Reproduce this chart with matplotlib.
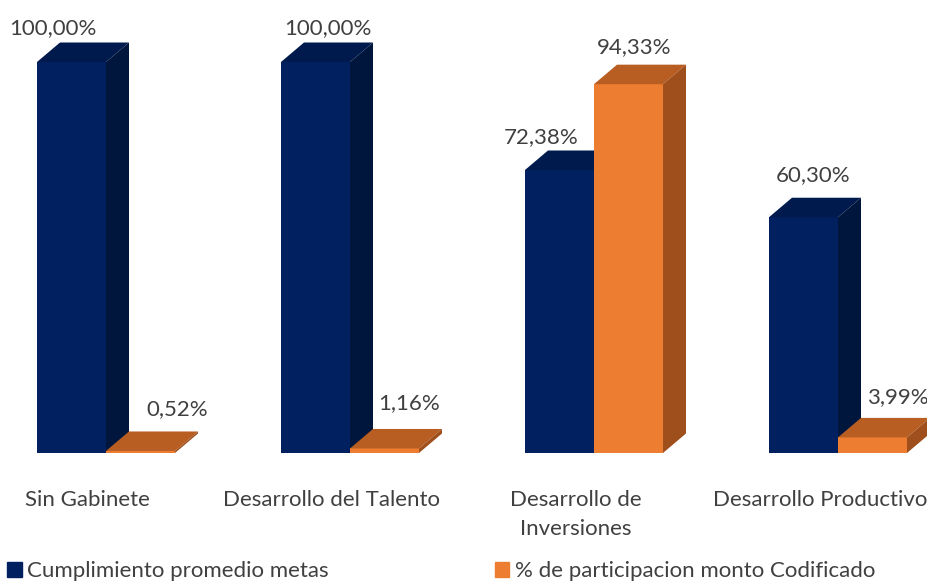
import matplotlib
matplotlib.use("Agg")
import matplotlib.pyplot as plt

categories = ["Sin Gabinete", "Desarrollo del Talento", "Desarrollo de\nInversiones", "Desarrollo Productivo"]
cumplimiento = [100.00, 100.00, 72.38, 60.30]
participacion = [0.52, 1.16, 94.33, 3.99]
series_names = ["Cumplimiento promedio metas", "% de participacion monto Codificado"]

def fmt(v):
    return f"{v:.2f}".replace(".", ",") + "%"

plt.rcParams['font.family'] = ['Lato', 'DejaVu Sans']

fig = plt.figure(figsize=(9.27, 5.82), dpi=100)
ax = fig.add_axes([0, 0, 1, 1])
ax.set_xlim(-106/244, (927-106)/244)
ax.set_ylim(-129/3.91, 453/3.91)
ax.axis('off')

W = 69/244
DX = 23/244
DY = 19.5/3.91

colors = {
    0: dict(front='#002060', top='#001a4d', side='#00163c'),
    1: dict(front='#ED7D31', top='#B85E22', side='#9E4F1C'),
}

def bar3d(x0, h, c):
    ax.fill([x0, x0+W, x0+W, x0], [0, 0, h, h], color=c['front'], lw=0, zorder=2)
    ax.fill([x0, x0+DX, x0+W+DX, x0+W], [h, h+DY, h+DY, h], color=c['top'], lw=0, zorder=2)
    ax.fill([x0+W, x0+W+DX, x0+W+DX, x0+W], [0, DY, h+DY, h], color=c['side'], lw=0, zorder=2)

# label offsets in pixels relative to front-top-center
blue_off = [(-19, 34), (12, 34), (-18, 33), (10, 42)]
orange_off = [(37, 42), (25, 45), (6, 37), (25, 40)]

txt_color = '#404040'
FS = 16
for i in range(len(categories)):
    bar3d(i - W, cumplimiento[i], colors[0])
    bar3d(i, participacion[i], colors[1])
    ax.annotate(fmt(cumplimiento[i]), (i - W/2, cumplimiento[i]),
                xytext=(blue_off[i][0]*0.72, blue_off[i][1]*0.72), textcoords='offset points',
                ha='center', va='center', fontsize=FS, color=txt_color)
    ax.annotate(fmt(participacion[i]), (i + W/2, participacion[i]),
                xytext=(orange_off[i][0]*0.72, orange_off[i][1]*0.72), textcoords='offset points',
                ha='center', va='center', fontsize=FS, color=txt_color)
    ax.text(i - 0.075, -(490-453)/3.91, categories[i], ha='center', va='top',
            fontsize=FS, color=txt_color, linespacing=1.55)

# legend
fig.patches.append(plt.Rectangle((7/927, 1-577/582), 15/927, 15/582,
                                 transform=fig.transFigure, color=colors[0]['front']))
fig.text(27/927, 1-577/582, series_names[0], ha='left', va='baseline', fontsize=FS, color=txt_color)
fig.patches.append(plt.Rectangle((495/927, 1-577/582), 14/927, 15/582,
                                 transform=fig.transFigure, color=colors[1]['front']))
fig.text(515/927, 1-577/582, series_names[1], ha='left', va='baseline', fontsize=FS, color=txt_color)

fig.savefig("out.png", dpi=100)
